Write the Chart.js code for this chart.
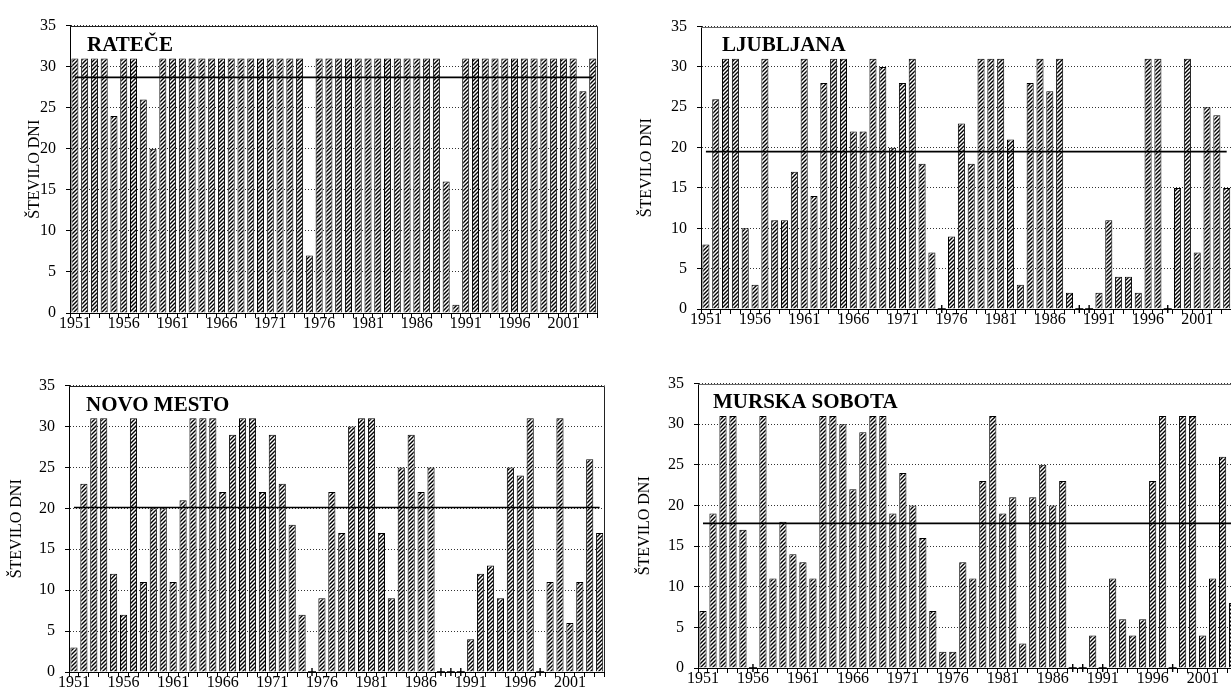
<!DOCTYPE html>
<html><head><meta charset="utf-8">
<script src="https://cdn.jsdelivr.net/npm/chart.js@4.4.1/dist/chart.umd.min.js"></script>
<style>
html,body{margin:0;padding:0;background:#fff;overflow:hidden;width:1231px;height:691px;position:relative;}
canvas{position:absolute;}
</style></head><body>
<canvas id="c1"></canvas><canvas id="c2"></canvas><canvas id="c3"></canvas><canvas id="c4"></canvas>
<script>
const YEARS = ['1951','1952','1953','1954','1955','1956','1957','1958','1959','1960',
  '1961','1962','1963','1964','1965','1966','1967','1968','1969','1970',
  '1971','1972','1973','1974','1975','1976','1977','1978','1979','1980',
  '1981','1982','1983','1984','1985','1986','1987','1988','1989','1990',
  '1991','1992','1993','1994','1995','1996','1997','1998','1999','2000',
  '2001','2002','2003','2004'];

const RATECE = [31,31,31,31,24,31,31,26,20,31,
  31,31,31,31,31,31,31,31,31,31,
  31,31,31,31,7,31,31,31,31,31,
  31,31,31,31,31,31,31,31,16,1,
  31,31,31,31,31,31,31,31,31,31,
  31,31,27,31];
const LJUBLJANA = [8,26,31,31,10,3,31,11,11,17,
  31,14,28,31,31,22,22,31,30,20,
  28,31,18,7,0,9,23,18,31,31,
  31,21,3,28,31,27,31,2,0,0,
  2,11,4,4,2,31,31,0,15,31,
  7,25,24,15];
const NOVO_MESTO = [3,23,31,31,12,7,31,11,20,20,
  11,21,31,31,31,22,29,31,31,22,
  29,23,18,7,0,9,22,17,30,31,
  31,17,9,25,29,22,25,0,0,0,
  4,12,13,9,25,24,31,0,11,31,
  6,11,26,17];
const MURSKA_SOBOTA = [7,19,31,31,17,0,31,11,18,14,
  13,11,31,31,30,22,29,31,31,19,
  24,20,16,7,2,2,13,11,23,31,
  19,21,3,21,25,20,23,0,0,4,
  0,11,6,4,6,23,31,0,31,31,
  4,11,26,8];

const AVG_RATECE = 28.7;
const AVG_LJUBLJANA = 19.5;
const AVG_NOVO_MESTO = 20.1;
const AVG_MURSKA_SOBOTA = 17.8;

const Y_TICKS = [0,5,10,15,20,25,30,35];
const LABEL_STEP = 5;

const SERIF = '"Liberation Serif", "Times New Roman", serif';

function hatchTile(){
  const c=document.createElement('canvas'); c.width=4; c.height=4;
  const x=c.getContext('2d');
  x.fillStyle='#fff'; x.fillRect(0,0,4,4);
  x.strokeStyle='#000'; x.lineWidth=1.4;
  x.beginPath();
  x.moveTo(0,4); x.lineTo(4,0);
  x.moveTo(-1,1); x.lineTo(1,-1);
  x.moveTo(3,5); x.lineTo(5,3);
  x.stroke();
  return c;
}
const TILE = hatchTile();

function makeChart(cfg){
  const cv=document.getElementById(cfg.id);
  cv.width=cfg.w; cv.height=cfg.h;
  cv.style.left=cfg.x+'px'; cv.style.top=cfg.y+'px';
  const ctx=cv.getContext('2d');
  const pat=ctx.createPattern(TILE,'repeat');
  const frame={
    id:'frame'+cfg.id,
    afterDraw(chart){
      const c=chart.ctx, a=chart.chartArea;
      c.save();
      c.strokeStyle=cfg.frame; c.lineWidth=1;
      c.beginPath();
      c.moveTo(a.left, Math.round(a.top)+0.5);
      c.lineTo(Math.round(a.right)-0.5, Math.round(a.top)+0.5);
      c.lineTo(Math.round(a.right)-0.5, a.bottom);
      c.stroke();
      c.font='bold 21px '+SERIF;
      c.fillStyle='#000'; c.textBaseline='alphabetic'; c.textAlign='left';
      c.fillText(cfg.title, a.left+cfg.tx, a.top+cfg.ty);
      c.restore();
    }
  };
  return new Chart(ctx,{
    data:{labels:YEARS,datasets:[
      {type:'bar',data:cfg.values,backgroundColor:pat,borderColor:'#000',borderWidth:1,
       barPercentage:0.72,categoryPercentage:1,order:3},
      {type:'line',data:cfg.values.map(v=>v===0?0:null),showLine:false,pointStyle:'cross',
       pointRadius:4,pointBorderColor:'#000',pointBorderWidth:1.4,borderColor:'#000',clip:false,order:1},
      {type:'line',data:YEARS.map(()=>cfg.avg),borderColor:'#000',borderWidth:1.6,pointRadius:0,order:0}
    ]},
    options:{
      responsive:false, animation:false, devicePixelRatio:1,
      layout:{padding:{top:12,right:5,left:0,bottom:0}},
      plugins:{legend:{display:false},tooltip:{enabled:false},title:{display:false}},
      scales:{
        x:{type:'category',offset:true,
          grid:{offset:true,drawOnChartArea:false,drawTicks:true,tickLength:5,color:'#000',tickColor:'#000'},
          border:{color:'#000',width:1},
          ticks:{autoSkip:false,maxRotation:0,minRotation:0,padding:-4,color:'#000',
            font:{family:SERIF,size:16},
            callback:(v,i)=> i%LABEL_STEP===0 ? YEARS[i] : ''},
          afterFit:s=>{s.height=30;}},
        y:{min:Y_TICKS[0],max:Y_TICKS[Y_TICKS.length-1],
          afterBuildTicks:s=>{s.ticks=Y_TICKS.map(v=>({value:v}));},
          ticks:{padding:10,color:'#000',font:{family:SERIF,size:16}},
          grid:{color:'#333',tickColor:'#000',tickLength:4,lineWidth:1},
          border:{color:'#000',width:1,dash:[1,2]},
          title:{display:true,text:'ŠTEVILO DNI',color:'#000',font:{family:SERIF,size:16},
            padding:{top:cfg.tp,bottom:0}},
          afterFit:s=>{s.width=cfg.yw;}}
      }
    },
    plugins:[frame]
  });
}

makeChart({id:'c1',x:0,y:6,w:603,h:337,yw:70,tp:25,values:RATECE,avg:AVG_RATECE,
  title:'RATEČE',tx:17,ty:25,frame:'#222'});
makeChart({id:'c2',x:631,y:7,w:606,h:332,yw:70,tp:6,values:LJUBLJANA,avg:AVG_LJUBLJANA,
  title:'LJUBLJANA',tx:21,ty:24,frame:'#666'});
makeChart({id:'c3',x:0,y:366,w:610,h:336,yw:69,tp:7,values:NOVO_MESTO,avg:AVG_NOVO_MESTO,
  title:'NOVO MESTO',tx:17,ty:25,frame:'#222'});
makeChart({id:'c4',x:628,y:364,w:615,h:334,yw:70,tp:7,values:MURSKA_SOBOTA,avg:AVG_MURSKA_SOBOTA,
  title:'MURSKA SOBOTA',tx:15,ty:24,frame:'#666'});
</script>
</body></html>
